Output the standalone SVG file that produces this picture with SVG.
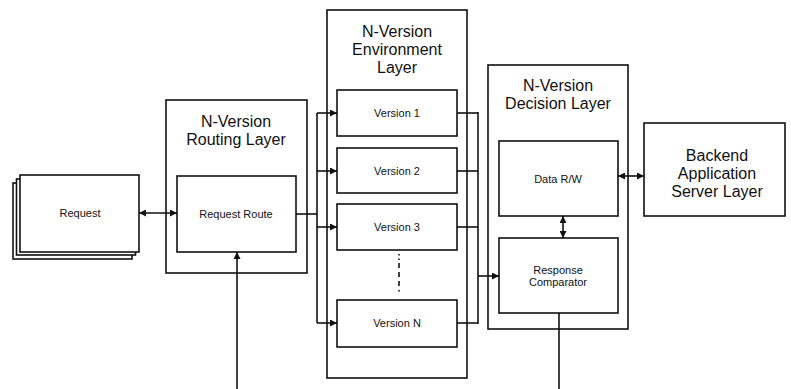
<svg xmlns="http://www.w3.org/2000/svg" width="791" height="389" viewBox="0 0 791 389">
  <defs>
    <marker id="arr" viewBox="0 0 10 10" refX="10" refY="5" markerWidth="9" markerHeight="7" markerUnits="userSpaceOnUse" orient="auto-start-reverse">
      <path d="M0,0 L10,5 L0,10 z" fill="#111"/>
    </marker>
    <style>
      .box { fill: #fff; stroke: #111; stroke-width: 1.6; }
      .ln { fill: none; stroke: #111; stroke-width: 1.6; }
      .title { font-family: "Liberation Sans", Arial, sans-serif; font-size: 16px; fill: #111; text-anchor: middle; }
      .lbl { font-family: "Liberation Sans", Arial, sans-serif; font-size: 11px; fill: #111; text-anchor: middle; }
    </style>
  </defs>
  <rect width="791" height="389" fill="#fff"/>

  <!-- stacked request cards -->
  <g id="request">
    <rect class="box" x="13" y="183" width="119" height="76"/>
    <rect class="box" x="16.5" y="179" width="119" height="76"/>
    <rect class="box" x="20" y="175" width="119" height="77"/>
    <text class="lbl" x="80" y="217">Request</text>
  </g>

  <g id="routing-layer">
    <rect class="box" x="166" y="100" width="141" height="173"/>
    <text class="title" x="236" y="127">N-Version</text>
    <text class="title" x="236" y="145">Routing Layer</text>
  </g>
  <g id="request-route">
    <rect class="box" x="177" y="176" width="119" height="76"/>
    <text class="lbl" x="236" y="218">Request Route</text>
  </g>

  <g id="environment-layer">
    <rect class="box" x="327" y="10" width="140" height="368"/>
    <text class="title" x="397" y="37">N-Version</text>
    <text class="title" x="397" y="55">Environment</text>
    <text class="title" x="397" y="73">Layer</text>
  </g>
  <g id="version-1">
    <rect class="box" x="337" y="90" width="120" height="46"/>
    <text class="lbl" x="397" y="117">Version 1</text>
  </g>
  <g id="version-2">
    <rect class="box" x="337" y="148" width="120" height="45"/>
    <text class="lbl" x="397" y="175">Version 2</text>
  </g>
  <g id="version-3">
    <rect class="box" x="337" y="204" width="120" height="46"/>
    <text class="lbl" x="397" y="231">Version 3</text>
  </g>
  <g id="version-n">
    <rect class="box" x="337" y="300" width="120" height="47"/>
    <text class="lbl" x="397" y="327">Version N</text>
  </g>

  <g id="decision-layer">
    <rect class="box" x="488" y="65" width="140" height="264"/>
    <text class="title" x="558" y="91">N-Version</text>
    <text class="title" x="558" y="109">Decision Layer</text>
  </g>
  <g id="data-rw">
    <rect class="box" x="499" y="141" width="119" height="75"/>
    <text class="lbl" x="558" y="183">Data R/W</text>
  </g>
  <g id="response-comparator">
    <rect class="box" x="499" y="238" width="119" height="75"/>
    <text class="lbl" x="558" y="274">Response</text>
    <text class="lbl" x="558" y="286">Comparator</text>
  </g>

  <g id="backend">
    <rect class="box" x="644" y="123" width="141" height="93"/>
    <text class="title" x="717" y="161">Backend</text>
    <text class="title" x="717" y="179">Application</text>
    <text class="title" x="717" y="197">Server Layer</text>
  </g>

  <g id="connectors">
    <!-- request <-> router -->
    <line class="ln" x1="139" y1="213" x2="177" y2="213" marker-start="url(#arr)" marker-end="url(#arr)"/>
    <!-- incoming from below into router -->
    <line class="ln" x1="237" y1="389" x2="237" y2="252" marker-end="url(#arr)"/>
    <!-- fan-out bus -->
    <polyline class="ln" points="296,214 317,214"/>
    <line class="ln" x1="317" y1="113" x2="317" y2="323"/>
    <line class="ln" x1="317" y1="113" x2="337" y2="113" marker-end="url(#arr)"/>
    <line class="ln" x1="317" y1="171" x2="337" y2="171" marker-end="url(#arr)"/>
    <line class="ln" x1="317" y1="227" x2="337" y2="227" marker-end="url(#arr)"/>
    <line class="ln" x1="317" y1="323" x2="337" y2="323" marker-end="url(#arr)"/>
    <!-- elided versions -->
    <line class="ln" x1="399" y1="254" x2="399" y2="294" stroke-dasharray="1.5 3 1.5 3 5 4 5 4 5 4"/>
    <!-- fan-in bus -->
    <line class="ln" x1="457" y1="113" x2="478" y2="113"/>
    <line class="ln" x1="457" y1="171" x2="478" y2="171"/>
    <line class="ln" x1="457" y1="227" x2="478" y2="227"/>
    <line class="ln" x1="457" y1="323" x2="478" y2="323"/>
    <line class="ln" x1="478" y1="112" x2="478" y2="324"/>
    <line class="ln" x1="478" y1="276" x2="499" y2="276" marker-end="url(#arr)"/>
    <!-- data r/w <-> comparator -->
    <line class="ln" x1="563" y1="216" x2="563" y2="238" marker-start="url(#arr)" marker-end="url(#arr)"/>
    <!-- data r/w <-> backend -->
    <line class="ln" x1="618" y1="176" x2="644" y2="176" marker-start="url(#arr)" marker-end="url(#arr)"/>
    <!-- comparator output downward -->
    <line class="ln" x1="559" y1="313" x2="559" y2="389"/>
  </g>
</svg>
